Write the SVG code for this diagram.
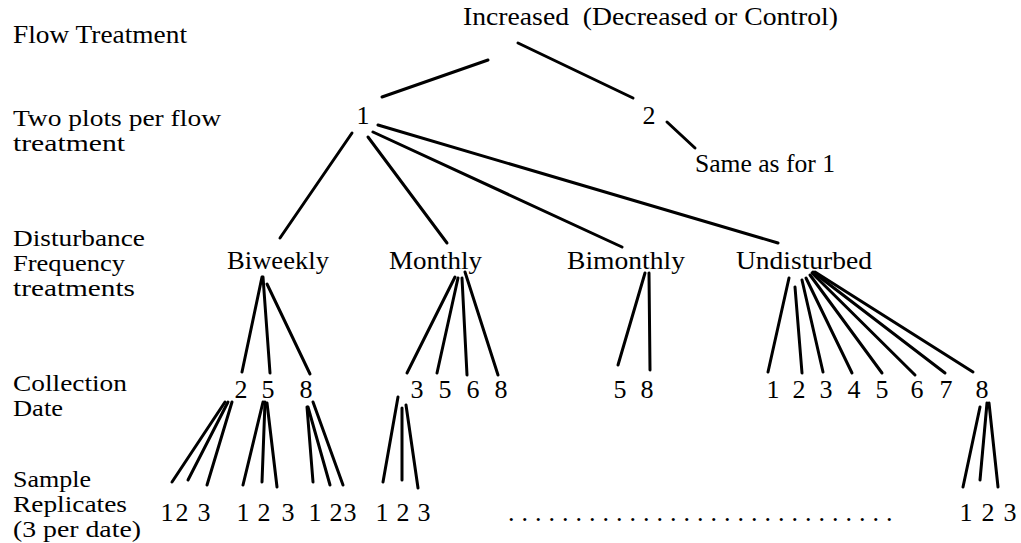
<svg xmlns="http://www.w3.org/2000/svg" width="1021" height="543" viewBox="0 0 1021 543">
<style>
text{font-family:"Liberation Serif","Times New Roman",serif;font-size:26px;fill:#000}
.lbl{font-size:22.5px}
.c line{stroke:#000;stroke-width:3;stroke-linecap:round}
.m{text-anchor:middle}
</style>
<rect width="1021" height="543" fill="#fff"/>
<g id="label-flow"><text x="13" y="43" textLength="174" lengthAdjust="spacingAndGlyphs">Flow Treatment</text></g>
<g id="label-plots"><text class="lbl" x="13" y="126"><tspan x="13" y="126" textLength="208" lengthAdjust="spacingAndGlyphs">Two plots per flow</tspan><tspan x="13" y="151" textLength="112" lengthAdjust="spacingAndGlyphs">treatment</tspan></text></g>
<g id="label-disturbance"><text class="lbl" x="13" y="246"><tspan x="13" y="246" textLength="132" lengthAdjust="spacingAndGlyphs">Disturbance</tspan><tspan x="13" y="271" textLength="112" lengthAdjust="spacingAndGlyphs">Frequency</tspan><tspan x="13" y="296" textLength="122" lengthAdjust="spacingAndGlyphs">treatments</tspan></text></g>
<g id="label-collection"><text class="lbl" x="13" y="391"><tspan x="13" y="391" textLength="114" lengthAdjust="spacingAndGlyphs">Collection</tspan><tspan x="13" y="416" textLength="50" lengthAdjust="spacingAndGlyphs">Date</tspan></text></g>
<g id="label-sample"><text class="lbl" x="13" y="487"><tspan x="13" y="487" textLength="78" lengthAdjust="spacingAndGlyphs">Sample</tspan><tspan x="13" y="512" textLength="114" lengthAdjust="spacingAndGlyphs">Replicates</tspan><tspan x="13" y="537" textLength="128" lengthAdjust="spacingAndGlyphs">(3 per date)</tspan></text></g>
<g id="n-increased"><text x="463" y="25" textLength="375" lengthAdjust="spacingAndGlyphs">Increased&#160; (Decreased or Control)</text></g>
<g id="n-plot1"><text class="m" x="363" y="124">1</text></g>
<g id="n-plot2"><text class="m" x="649" y="124">2</text></g>
<g id="n-same"><text x="695" y="172" textLength="140" lengthAdjust="spacingAndGlyphs">Same as for 1</text></g>
<g id="n-biweekly"><text x="227" y="269" textLength="102" lengthAdjust="spacingAndGlyphs">Biweekly</text></g>
<g id="n-monthly"><text x="389" y="269" textLength="93" lengthAdjust="spacingAndGlyphs">Monthly</text></g>
<g id="n-bimonthly"><text x="567" y="269" textLength="118" lengthAdjust="spacingAndGlyphs">Bimonthly</text></g>
<g id="n-undisturbed"><text x="736" y="269" textLength="136" lengthAdjust="spacingAndGlyphs">Undisturbed</text></g>
<g id="n-dates-biweekly"><text class="m" x="241 268 306" y="398">258</text></g>
<g id="n-dates-monthly"><text class="m" x="417 445 473 501" y="398">3568</text></g>
<g id="n-dates-bimonthly"><text class="m" x="620 647" y="398">58</text></g>
<g id="n-dates-undisturbed"><text class="m" x="773 799 826 854 882 917 946 982" y="398">12345678</text></g>
<g id="n-rep-b2"><text class="m" x="167 182 193 204" y="521">12 3</text></g>
<g id="n-rep-b5"><text class="m" x="243 254 264 276 288" y="521">1 2 3</text></g>
<g id="n-rep-b8"><text class="m" x="315 326 336 350" y="521">1 23</text></g>
<g id="n-rep-m3"><text class="m" x="382 392 403 413 424" y="521">1 2 3</text></g>
<g id="n-rep-dots"><text x="508" y="521" letter-spacing="7">.............................</text></g>
<g id="n-rep-u8"><text class="m" x="966 977 988 999 1010" y="521">1 2 3</text></g>
<g id="connectors" class="c">
<line x1="488" y1="60" x2="382" y2="97"/>
<line x1="518" y1="43" x2="633" y2="98"/>
<line x1="667" y1="122" x2="695" y2="148"/>
<line x1="352" y1="133" x2="280" y2="238"/>
<line x1="368" y1="137" x2="447" y2="243"/>
<line x1="373" y1="132" x2="622" y2="247"/>
<line x1="378" y1="125" x2="778" y2="243"/>
<line x1="262" y1="277" x2="242" y2="372"/>
<line x1="263" y1="277" x2="270" y2="373"/>
<line x1="267" y1="284" x2="310" y2="374"/>
<line x1="455" y1="277" x2="407" y2="373"/>
<line x1="458" y1="278" x2="437" y2="373"/>
<line x1="462" y1="278" x2="467" y2="375"/>
<line x1="465" y1="272" x2="498" y2="375"/>
<line x1="645" y1="273" x2="618" y2="365"/>
<line x1="649" y1="273" x2="650" y2="370"/>
<line x1="789" y1="278" x2="768" y2="372"/>
<line x1="795" y1="287" x2="802" y2="373"/>
<line x1="802" y1="280" x2="823" y2="372"/>
<line x1="806" y1="278" x2="852" y2="373"/>
<line x1="810" y1="275" x2="882" y2="373"/>
<line x1="812" y1="273" x2="915" y2="375"/>
<line x1="813" y1="272" x2="945" y2="373"/>
<line x1="815" y1="272" x2="973" y2="372"/>
<line x1="225" y1="402" x2="172" y2="482"/>
<line x1="228" y1="402" x2="188" y2="480"/>
<line x1="232" y1="402" x2="207" y2="485"/>
<line x1="263" y1="402" x2="243" y2="485"/>
<line x1="265" y1="402" x2="262" y2="482"/>
<line x1="267" y1="403" x2="277" y2="487"/>
<line x1="307" y1="407" x2="313" y2="482"/>
<line x1="308" y1="407" x2="330" y2="485"/>
<line x1="313" y1="402" x2="343" y2="485"/>
<line x1="398" y1="397" x2="383" y2="482"/>
<line x1="402" y1="408" x2="402" y2="480"/>
<line x1="406" y1="405" x2="418" y2="488"/>
<line x1="980" y1="407" x2="963" y2="487"/>
<line x1="987" y1="403" x2="980" y2="480"/>
<line x1="989" y1="403" x2="998" y2="487"/>
</g>
</svg>
